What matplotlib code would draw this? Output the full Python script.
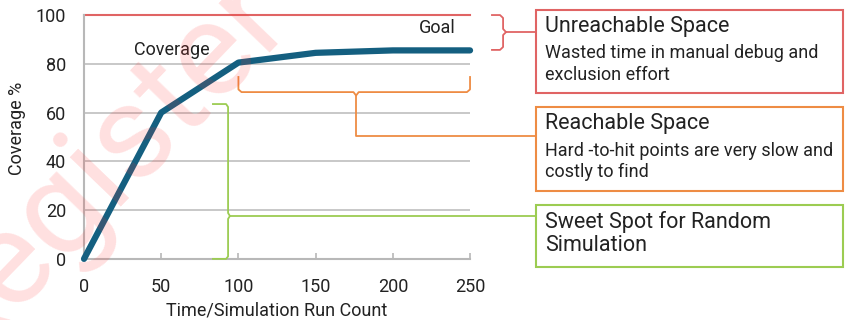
import numpy as np
import matplotlib.pyplot as plt
from matplotlib.patches import Rectangle

plt.rcParams['font.family'] = ['Roboto', 'DejaVu Sans']

# data
runs = [0, 50, 100, 150, 200, 250]
coverage = [0, 60, 80.5, 84.5, 85.5, 85.5]
goal = 100
yticks = [0, 20, 40, 60, 80, 100]
xticks = [0, 50, 100, 150, 200, 250]

boxes = [
    ("Unreachable Space", "Wasted time in manual debug and\nexclusion effort", "#e06464"),
    ("Reachable Space", "Hard -to-hit points are very slow and\ncostly to find", "#ee8c44"),
    ("Sweet Spot for Random\nSimulation", "", "#9ccc52"),
]

BLUE = "#145f80"
GRID = "#c4c4c4"
TXT = "#222222"

fig = plt.figure(figsize=(8.46, 3.2), dpi=100)
ax = fig.add_axes([0.0993, 0.191, 0.4563, 0.762])

# watermark
fig.text(0.115, 0.47, "Register", color="#ff3030", alpha=0.15, fontsize=96,
         rotation=46, ha="center", va="center", zorder=0)

ax.set_xlim(0, 250)
ax.set_ylim(0, 100)
for y in yticks[1:-1]:
    ax.axhline(y, color=GRID, lw=1.3, zorder=1)
ax.axhline(goal, color="#e06464", lw=1.5, zorder=2, clip_on=False)

ax.plot(runs, coverage, color=BLUE, lw=4.5, solid_capstyle="round",
        solid_joinstyle="round", zorder=5, clip_on=False)

ax.set_xticks(xticks)
ax.set_yticks(yticks)
ax.tick_params(axis="x", direction="in", length=4, width=1.2, color="#b8b8b8",
               labelsize=13, pad=14, labelcolor=TXT)
ax.tick_params(axis="y", length=0, labelsize=13, pad=13, labelcolor=TXT)
for s in ["top", "right"]:
    ax.spines[s].set_visible(False)
for s in ["left", "bottom"]:
    ax.spines[s].set_color("#b8b8b8")
    ax.spines[s].set_linewidth(1.5)
ax.set_xlabel("Time/Simulation Run Count", fontsize=13, color=TXT, labelpad=4)
ax.set_ylabel("Coverage %", fontsize=13, color=TXT)
ax.yaxis.set_label_coords(-0.150, 0.535)

ax.text(57, 85.5, "Coverage", fontsize=13, ha="center", va="center", color=TXT)
ax.text(229, 94.5, "Goal", fontsize=13, ha="center", va="center", color=TXT)

# red bracket (unreachable)
rc = boxes[0][2]
ax.plot([264.2, 269.4, 271.4, 271.4, 273.3, 271.4, 271.4, 269.4, 264.2],
        [100, 100, 98.8, 94.3, 93.0, 91.8, 86.9, 85.7, 85.7],
        color=rc, lw=1.3, clip_on=False)
ax.plot([273.3, 292.7], [93.0, 93.0], color=rc, lw=1.3, clip_on=False)

# orange bracket (reachable)
oc = boxes[1][2]
ax.plot([100, 100, 102, 174.5, 176.2, 177.9, 248, 250, 250],
        [74.6, 69.5, 68.4, 68.4, 67.0, 68.4, 68.4, 69.5, 74.6],
        color=oc, lw=1.3, clip_on=False)
ax.plot([176.2, 176.2, 292.7], [67.0, 50.4, 50.4], color=oc, lw=1.3, clip_on=False)

# green bracket (sweet spot)
gc = boxes[2][2]
ax.plot([83.5, 92.0, 93.3, 93.3, 94.5, 93.3, 93.3, 92.0, 83.5],
        [63.5, 63.5, 62.3, 18.8, 17.6, 16.4, 1.0, 0, 0],
        color=gc, lw=1.3, clip_on=False, zorder=4)
ax.plot([94.5, 292.7], [17.6, 17.6], color=gc, lw=1.3, clip_on=False, zorder=4)

# boxes on the right
box_y = [(0.7094, 0.9688), (0.403, 0.666), (0.1656, 0.359)]
title_y = [0.916, 0.6125, 0.2703]
sub_y = [0.80, 0.4953]
x0, x1 = 0.6336, 0.9965
tx = 0.644
for i, ((title, sub, col), (y0, y1)) in enumerate(zip(boxes, box_y)):
    fig.patches.append(Rectangle((x0, y0), x1 - x0, y1 - y0, transform=fig.transFigure,
                                 fill=False, edgecolor=col, lw=1.5))
    fig.text(tx, title_y[i], title, fontsize=15.5, va="center", color=TXT,
             linespacing=1.15)
    if sub:
        fig.text(tx, sub_y[i], sub, fontsize=13, va="center", color=TXT,
                 linespacing=1.25)

fig.savefig("out.png", dpi=100)
